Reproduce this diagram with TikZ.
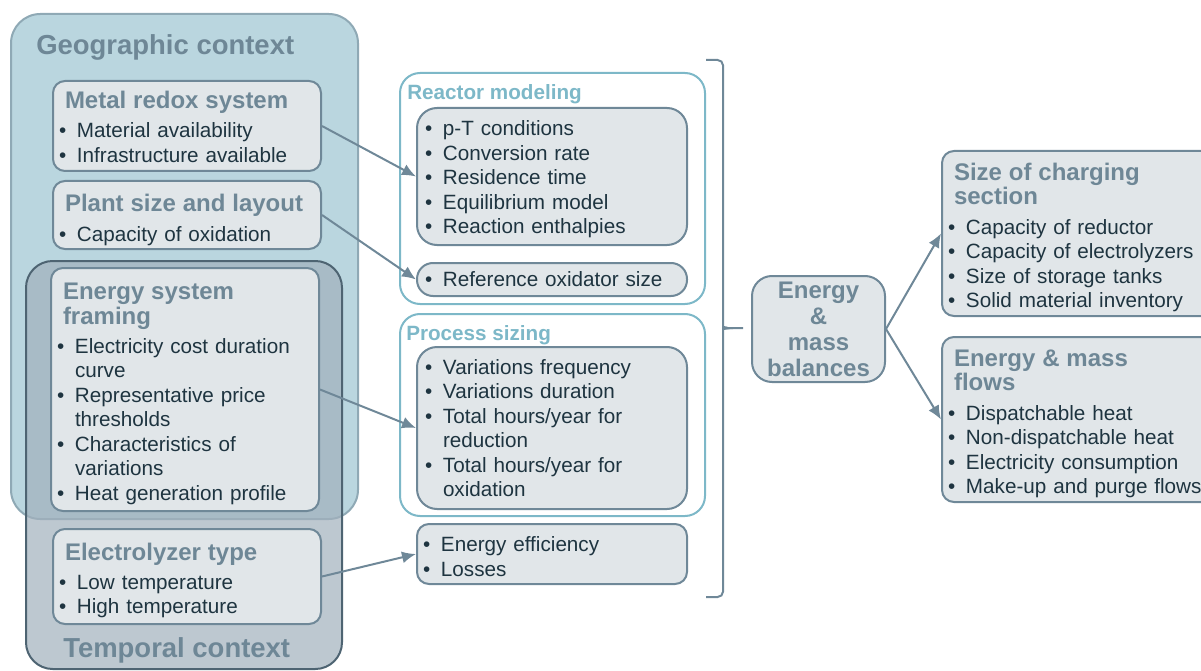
\documentclass[tikz,border=0pt]{standalone}
\usepackage{fontspec}
\setmainfont{Liberation Sans}
\usetikzlibrary{arrows.meta}

\definecolor{geofill}{HTML}{BAD6DF}
\definecolor{geoline}{HTML}{8FA9B5}
\definecolor{tempfill}{HTML}{A2B1BD}
\definecolor{templine}{HTML}{4E6472}
\definecolor{boxfill}{HTML}{E1E6E9}
\definecolor{boxline}{HTML}{6F8898}
\definecolor{head}{HTML}{6E8796}
\definecolor{txt}{HTML}{1E3440}
\definecolor{teal}{HTML}{7DB8C8}

\newcommand\hd[1]{{\fontsize{18}{18.4}\selectfont\bfseries\color{head}\hspace*{4.5pt}#1}}
\newcommand\bl{\makebox[13.5pt][l]{\textbullet}}
\newcommand\ind{\hspace*{13.5pt}}
\newcommand\up[1]{\rule{0pt}{#1}}

\tikzset{
	box/.style={draw=boxline,fill=boxfill,line width=1.5pt,rounded corners=9pt,anchor=north west,
		inner xsep=4.5pt,inner ysep=0pt,align=left,text=txt,font=\fontsize{15.5}{18.4}\selectfont},
	ctxbox/.style={anchor=north west,inner sep=0pt,line width=1.5pt},
	modframe/.style={draw=teal,fill=white,line width=1.5pt,rounded corners=15pt,anchor=north west,inner sep=0pt},
	ctx/.style={font=\fontsize{20.6}{22}\selectfont\bfseries,text=head,anchor=base west,inner sep=0pt},
	subtitle/.style={font=\fontsize{15.5}{18}\selectfont\bfseries,text=teal,anchor=base west,inner sep=0pt},
	arr/.style={-{Latex[length=10.5pt,width=9pt]},draw=boxline,line width=1.5pt},
}

\begin{document}
\begin{tikzpicture}[x=0.75pt,y=-0.75pt]
	\useasboundingbox (0,0) rectangle (1201,670);
	\clip (0,0) rectangle (1201,670);
	% context frames
	\node[ctxbox,draw=geoline,fill=geofill,minimum width=260.25pt,minimum height=378.75pt,rounded corners=22pt] (geo) at (10,13) {};
	\node[ctx] (geotitle) at (36,55) {Geographic context};
	\node[ctxbox,draw=templine,fill=tempfill,fill opacity=.71,minimum width=237pt,minimum height=306pt,rounded corners=20pt] (temp) at (25,260) {};
	\node[ctx] (temptitle) at (63,657) {Temporal context};
	% inputs
	\node[box,text width=192pt,minimum height=67.5pt] (metal) at (52,80) {\up{14.5pt}\hd{Metal redox system}\\[3.4pt]\bl Material availability\\\bl Infrastructure available};
	\node[box,text width=192pt,minimum height=51pt] (plant) at (52,180) {\up{20.5pt}\hd{Plant size and layout}\\[3.4pt]\bl Capacity of oxidation};
	\node[box,text width=192pt,minimum height=182.25pt] (framing) at (50,267) {\up{19pt}\hd{Energy system}\\\hd{framing}\\[3.4pt]\bl Electricity cost duration\\\ind curve\\\bl Representative price\\\ind thresholds\\\bl Characteristics of\\\ind variations\\\bl Heat generation profile};
	\node[box,text width=192pt,minimum height=71.25pt] (elec) at (52,528) {\up{19pt}\hd{Electrolyzer type}\\[3.4pt]\bl Low temperature\\\bl High temperature};
	% modeling
	\node[modframe,minimum width=228.75pt,minimum height=173.25pt] (reactor) at (399,72) {};
	\node[subtitle] (reactortitle) at (407,100) {Reactor modeling};
	\node[box,text width=190.5pt,inner xsep=6pt,minimum height=102.75pt,rounded corners=15pt] (rmodel) at (416,107) {\up{15.8pt}\bl p-T conditions\\\bl Conversion rate\\\bl Residence time\\\bl Equilibrium model\\\bl Reaction enthalpies};
	\node[box,text width=190.5pt,inner xsep=6pt,minimum height=24.75pt,rounded corners=12pt] (refox) at (416,262) {\bl Reference oxidator size};
	\node[modframe,minimum width=228.75pt,minimum height=151.5pt] (process) at (399,313) {};
	\node[subtitle] (processtitle) at (406,340) {Process sizing};
	\node[box,text width=190.5pt,inner xsep=6pt,minimum height=121.5pt,rounded corners=15pt] (psize) at (416,346) {\bl Variations frequency\\\bl Variations duration\\\bl Total hours/year for\\\ind reduction\\\bl Total hours/year for\\\ind oxidation};
	\node[box,text width=193.5pt,inner xsep=4.5pt,minimum height=45pt] (eff) at (416,523) {\up{15.1pt}\bl Energy efficiency\\\bl Losses};
	% brace
	\draw[boxline,line width=1.5pt,rounded corners=4pt] (706,60) -- (723,60) -- (723,322) to[out=-90,in=180] (733,328) -- (743,328);
	\draw[boxline,line width=1.5pt,rounded corners=4pt] (706,597) -- (723,597) -- (723,334) to[out=90,in=180] (733,328);
	% results
	\node[box,align=center,inner sep=0pt,minimum width=99.75pt,minimum height=79.5pt,rounded corners=15pt,text=head,font=\fontsize{18}{19.5}\selectfont\bfseries] (bal) at (751,275) {Energy\\\&\\mass\\balances};
	\node[box,text width=208.5pt,minimum height=123.75pt] (charge) at (941,150) {\up{19pt}\hd{Size of charging}\\\hd{section}\\[3.4pt]\bl Capacity of reductor\\\bl Capacity of electrolyzers\\\bl Size of storage tanks\\\bl Solid material inventory};
	\node[box,text width=208.5pt,minimum height=123.75pt] (flows) at (941,336) {\up{19pt}\hd{Energy \& mass}\\\hd{flows}\\[3.4pt]\bl Dispatchable heat\\\bl Non-dispatchable heat\\\bl Electricity consumption\\\bl Make-up and purge flows};
	% connectors
	\draw[arr] (metal.east) -- (rmodel.west);
	\draw[arr] (plant.east) -- (refox.west);
	\draw[arr] (framing.east) -- (psize.west);
	\draw[arr] (elec.east) -- (eff.west);
	\draw[arr] (bal.east) -- (charge.west);
	\draw[arr] (bal.east) -- (flows.west);
\end{tikzpicture}
\end{document}
